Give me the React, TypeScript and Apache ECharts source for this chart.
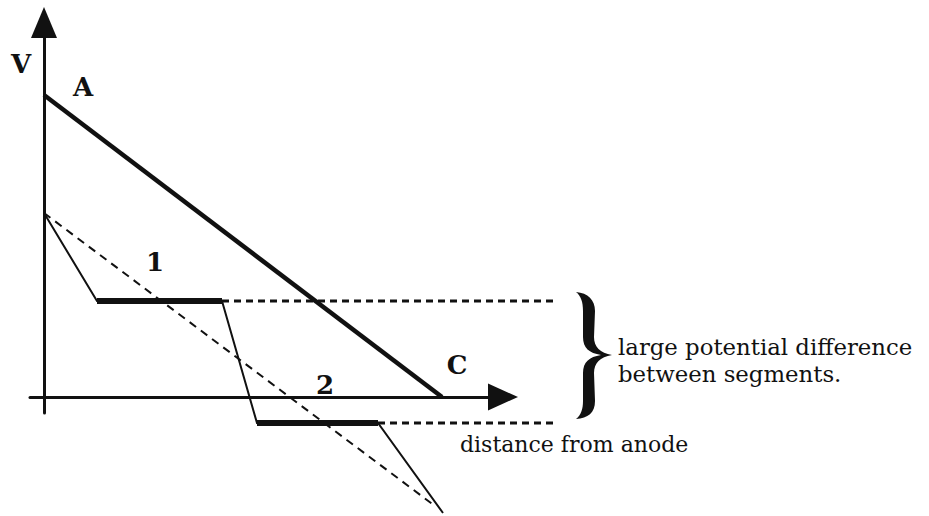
import React, { useEffect, useRef } from "react";
import * as echarts from "echarts";

// Schematic values (x: distance from anode, y: potential V), arbitrary units
const lineA: number[][] = [[0, 30.2], [39.8, 0]];
const dashedDiagonal: number[][] = [[0, 18.4], [39.1, -10.9]];
const segmentedProfile: number[][] = [
  [0, 18.4], [5.3, 9.6], [17.8, 9.6], [21.3, -2.6], [33.4, -2.6], [39.9, -11.6],
];
const segment1: number[][] = [[5.3, 9.6], [17.8, 9.6]];
const segment2: number[][] = [[21.3, -2.6], [33.4, -2.6]];
const level1: number[][] = [[17.8, 9.6], [51.1, 9.6]];
const level2: number[][] = [[33.4, -2.6], [51.1, -2.6]];

const xAxisRange = [-1.4, 45.9];
const xDataRange = [-1.4, 51.1];
const yRange = [-1.6, 37.45];

const axisLabelV = "V";
const pointLabels = ["A", "C"];
const segmentLabels = ["1", "2"];
const braceCaption = ["large potential difference", "between segments."];
const xCaption = "distance from anode";

const INK = "#111111";
const BRACE_D =
  "M576,292 C588,293 595,300 595,311 L594,337 C594,347 600,353 612,355 C600,357 594,363 594,373 L595,401 C595,413 588,418 576,419 C581,415 583,409 583,401 L583,373 C583,362 589,357 601,355 C589,353 583,348 583,337 L583,311 C583,302 581,296 576,292 Z";

let braceRegistered = false;

export default function App() {
  const ref = useRef<HTMLDivElement>(null);
  useEffect(() => {
    if (!ref.current) return;
    if (!braceRegistered) {
      echarts.graphic.registerShape("brace", echarts.graphic.extendPath(BRACE_D, {}));
      braceRegistered = true;
    }
    const chart = echarts.init(ref.current, null, { renderer: "svg" });
    const lineSeries = (data: number[][], width: number, type: any = "solid") => ({
      type: "line",
      data,
      xAxisIndex: 1,
      yAxisIndex: 1,
      symbol: "none",
      clip: false,
      silent: true,
      lineStyle: { color: INK, width, type, cap: "butt", join: "miter" },
    });
    const serif = "'DejaVu Serif', 'Liberation Serif', serif";
    const label = (text: string, x: number, y: number) => ({
      type: "text",
      x,
      y,
      style: {
        text,
        fill: INK,
        font: `bold 26px ${serif}`,
        textAlign: "center",
        textVerticalAlign: "middle",
      },
    });
    const caption = (text: string, x: number, y: number, size: number) => ({
      type: "text",
      x,
      y,
      style: {
        text,
        fill: INK,
        font: `${size}px ${serif}`,
        textAlign: "left",
        textVerticalAlign: "middle",
      },
    });
    const hiddenAxis = { show: false };
    const axisLineStyle = (size: number[]) => ({
      show: true,
      onZero: true,
      symbol: ["none", "triangle"],
      symbolSize: size,
      lineStyle: { color: INK, width: 3 },
    });
    chart.setOption({
      animation: false,
      backgroundColor: "#ffffff",
      grid: [
        { left: 30, right: 426, top: 22.5, bottom: 103, containLabel: false },
        { left: 30, right: 374, top: 22.5, bottom: 103, containLabel: false },
      ],
      xAxis: [
        {
          type: "value",
          gridIndex: 0,
          min: xAxisRange[0],
          max: xAxisRange[1],
          axisLine: axisLineStyle([27, 30]),
          axisTick: { show: false },
          axisLabel: { show: false },
          splitLine: { show: false },
        },
        { type: "value", gridIndex: 1, min: xDataRange[0], max: xDataRange[1], ...hiddenAxis },
      ],
      yAxis: [
        {
          type: "value",
          gridIndex: 0,
          min: yRange[0],
          max: yRange[1],
          axisLine: axisLineStyle([26, 31]),
          axisTick: { show: false },
          axisLabel: { show: false },
          splitLine: { show: false },
        },
        { type: "value", gridIndex: 1, min: yRange[0], max: yRange[1], ...hiddenAxis },
      ],
      series: [
        lineSeries(lineA, 4.5),
        lineSeries(dashedDiagonal, 2, [8, 6]),
        lineSeries(segmentedProfile, 2),
        lineSeries(segment1, 6),
        lineSeries(segment2, 6),
        lineSeries(level1, 3, [7, 5]),
        lineSeries(level2, 3, [7, 5]),
      ],
      graphic: [
        label(axisLabelV, 21, 64),
        label(pointLabels[0], 83, 87),
        label(pointLabels[1], 457, 365),
        label(segmentLabels[0], 155, 262),
        label(segmentLabels[1], 325, 385),
        { type: "brace", x: 0, y: 0, style: { fill: INK } },
        caption(braceCaption[0], 618, 347, 22.8),
        caption(braceCaption[1], 618, 374, 22.8),
        caption(xCaption, 460, 444, 22),
      ],
    });
    return () => chart.dispose();
  }, []);
  return (
    <div
      ref={ref}
      style={{ position: "absolute", left: 0, top: 0, width: 929, height: 516, background: "#fff" }}
    />
  );
}
